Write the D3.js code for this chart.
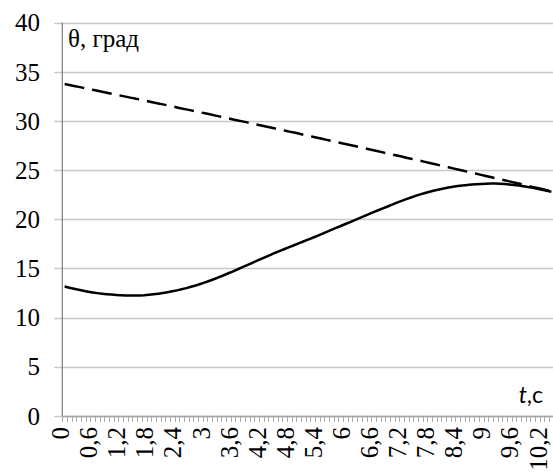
<!DOCTYPE html>
<html>
<head>
<meta charset="utf-8">
<script src="https://cdn.jsdelivr.net/npm/d3@7"></script>
<style>
  html, body { margin: 0; padding: 0; background: #fff; }
  svg { display: block; }
</style>
</head>
<body>
<svg id="chart" width="553" height="472"></svg>
<script>
// Time, s (category axis, step 0.1 s)
const times = [
  0, 0.1, 0.2, 0.3, 0.4, 0.5, 0.6, 0.7, 0.8, 0.9,
  1, 1.1, 1.2, 1.3, 1.4, 1.5, 1.6, 1.7, 1.8, 1.9,
  2, 2.1, 2.2, 2.3, 2.4, 2.5, 2.6, 2.7, 2.8, 2.9,
  3, 3.1, 3.2, 3.3, 3.4, 3.5, 3.6, 3.7, 3.8, 3.9,
  4, 4.1, 4.2, 4.3, 4.4, 4.5, 4.6, 4.7, 4.8, 4.9,
  5, 5.1, 5.2, 5.3, 5.4, 5.5, 5.6, 5.7, 5.8, 5.9,
  6, 6.1, 6.2, 6.3, 6.4, 6.5, 6.6, 6.7, 6.8, 6.9,
  7, 7.1, 7.2, 7.3, 7.4, 7.5, 7.6, 7.7, 7.8, 7.9,
  8, 8.1, 8.2, 8.3, 8.4, 8.5, 8.6, 8.7, 8.8, 8.9,
  9, 9.1, 9.2, 9.3, 9.4, 9.5, 9.6, 9.7, 9.8, 9.9,
  10, 10.1, 10.2, 10.3, 10.4
];

// Angle θ, deg — upper (dashed) curve
const thetaDashed = [
  33.75, 33.65, 33.56, 33.46, 33.36, 33.26, 33.16, 33.07, 32.97, 32.87,
  32.77, 32.67, 32.57, 32.47, 32.37, 32.28, 32.18, 32.08, 31.98, 31.88,
  31.78, 31.68, 31.58, 31.48, 31.37, 31.27, 31.17, 31.07, 30.97, 30.87,
  30.77, 30.67, 30.56, 30.46, 30.36, 30.26, 30.15, 30.05, 29.95, 29.85,
  29.74, 29.64, 29.54, 29.43, 29.33, 29.23, 29.12, 29.02, 28.91, 28.81,
  28.71, 28.60, 28.50, 28.39, 28.29, 28.18, 28.07, 27.97, 27.86, 27.76,
  27.65, 27.55, 27.44, 27.33, 27.23, 27.12, 27.01, 26.91, 26.80, 26.69,
  26.58, 26.48, 26.37, 26.26, 26.15, 26.04, 25.94, 25.83, 25.72, 25.61,
  25.50, 25.39, 25.28, 25.17, 25.06, 24.95, 24.84, 24.73, 24.62, 24.51,
  24.40, 24.29, 24.18, 24.07, 23.96, 23.85, 23.74, 23.63, 23.51, 23.40,
  23.29, 23.18, 23.07, 22.95, 22.84
];

// Angle θ, deg — lower (solid) curve
const thetaSolid = [
  13.15, 13.03, 12.92, 12.82, 12.72, 12.63, 12.55, 12.48, 12.42, 12.37,
  12.33, 12.30, 12.27, 12.25, 12.24, 12.24, 12.25, 12.27, 12.31, 12.36,
  12.42, 12.49, 12.57, 12.66, 12.76, 12.87, 12.99, 13.12, 13.26, 13.41,
  13.57, 13.74, 13.92, 14.11, 14.30, 14.50, 14.70, 14.91, 15.12, 15.33,
  15.54, 15.75, 15.96, 16.17, 16.38, 16.59, 16.78, 16.97, 17.16, 17.35,
  17.54, 17.73, 17.92, 18.11, 18.31, 18.51, 18.71, 18.91, 19.11, 19.31,
  19.51, 19.71, 19.91, 20.11, 20.31, 20.51, 20.71, 20.91, 21.10, 21.29,
  21.48, 21.68, 21.86, 22.04, 22.21, 22.38, 22.53, 22.67, 22.80, 22.92,
  23.03, 23.13, 23.22, 23.30, 23.37, 23.43, 23.48, 23.52, 23.56, 23.59,
  23.61, 23.62, 23.62, 23.61, 23.58, 23.54, 23.49, 23.43, 23.36, 23.28,
  23.19, 23.10, 23.00, 22.90, 22.80
];

// Value axis ticks
const yTicks = [0, 5, 10, 15, 20, 25, 30, 35, 40];

// Category labels, shown on every 6th category
const xTickTimes  = [0, 0.6, 1.2, 1.8, 2.4, 3, 3.6, 4.2, 4.8, 5.4, 6, 6.6, 7.2, 7.8, 8.4, 9, 9.6, 10.2];
const xTickLabels = ["0", "0,6", "1,2", "1,8", "2,4", "3", "3,6", "4,2", "4,8", "5,4", "6", "6,6", "7,2", "7,8", "8,4", "9", "9,6", "10,2"];

const SERIF = '"Liberation Serif", Tinos, "Times New Roman", serif';
const SANS = 'Lato, "Open Sans", sans-serif';

const svg = d3.select("#chart");

const plot = { left: 62.3, right: 553.7, top: 22.6, bottom: 415.8 };

const x = d3.scaleBand()
  .domain(times)
  .range([plot.left, plot.right])
  .padding(0);
const cx = t => x(t) + x.bandwidth() / 2;

const y = d3.scaleLinear()
  .domain([0, 40])
  .range([plot.bottom, plot.top]);

// Horizontal gridlines (extend left as outer tick marks)
svg.append("g")
  .selectAll("line")
  .data(yTicks)
  .join("line")
  .attr("x1", plot.left - 8)
  .attr("x2", 553)
  .attr("y1", d => Math.round(y(d)) + 0.5)
  .attr("y2", d => Math.round(y(d)) + 0.5)
  .attr("stroke", "#c8c8c8")
  .attr("stroke-width", 1.3);

// Value axis labels
svg.append("g")
  .selectAll("text")
  .data(yTicks)
  .join("text")
  .attr("x", 40)
  .attr("y", d => y(d))
  .attr("dy", "0.35em")
  .attr("text-anchor", "end")
  .style("font-family", SERIF)
  .style("font-size", "25px")
  .attr("fill", "#000")
  .text(d => d);

// Category tick marks at category boundaries
const bounds = times.map(t => x(t)).concat([x(times[times.length - 1]) + x.bandwidth()]);
svg.append("g")
  .selectAll("line")
  .data(bounds)
  .join("line")
  .attr("x1", d => Math.round(d) + 0.5)
  .attr("x2", d => Math.round(d) + 0.5)
  .attr("y1", plot.bottom)
  .attr("y2", plot.bottom + 6)
  .attr("stroke", "#a6a6a6")
  .attr("stroke-width", 1);

// Axis lines
svg.append("line")
  .attr("x1", plot.left).attr("x2", 553)
  .attr("y1", Math.round(plot.bottom) + 0.5).attr("y2", Math.round(plot.bottom) + 0.5)
  .attr("stroke", "#a6a6a6").attr("stroke-width", 1.3);
svg.append("line")
  .attr("x1", plot.left).attr("x2", plot.left)
  .attr("y1", plot.top).attr("y2", plot.bottom)
  .attr("stroke", "#868686").attr("stroke-width", 1.3);

// Category labels, rotated
svg.append("g")
  .selectAll("text")
  .data(xTickTimes.map((t, i) => ({ t, label: xTickLabels[i] })))
  .join("text")
  .attr("transform", d => `translate(${cx(d.t) - 4},427) rotate(-90)`)
  .attr("text-anchor", "end")
  .attr("dominant-baseline", "central")
  .style("font-family", SERIF)
  .style("font-size", "25px")
  .attr("fill", "#000")
  .text(d => d.label);

// Curves
const line = series => d3.line()
  .x((d, i) => cx(times[i]))
  .y(d => y(d))(series);

svg.append("path")
  .attr("d", line(thetaDashed))
  .attr("fill", "none")
  .attr("stroke", "#000")
  .attr("stroke-width", 2.5)
  .attr("stroke-dasharray", "20 8");

svg.append("path")
  .attr("d", line(thetaSolid))
  .attr("fill", "none")
  .attr("stroke", "#000")
  .attr("stroke-width", 2.5)
  .attr("stroke-linejoin", "round");

// Axis titles
svg.append("text")
  .attr("x", 68)
  .attr("y", 47)
  .style("font-family", SERIF)
  .style("font-size", "25px")
  .attr("fill", "#000")
  .text("θ, град");

const tTitle = svg.append("text")
  .attr("x", 543)
  .attr("y", 403)
  .attr("text-anchor", "end")
  .style("font-family", SANS)
  .style("font-size", "23px")
  .attr("fill", "#000");
tTitle.append("tspan").style("font-style", "italic").text("t");
tTitle.append("tspan").text(",с");
</script>
</body>
</html>
